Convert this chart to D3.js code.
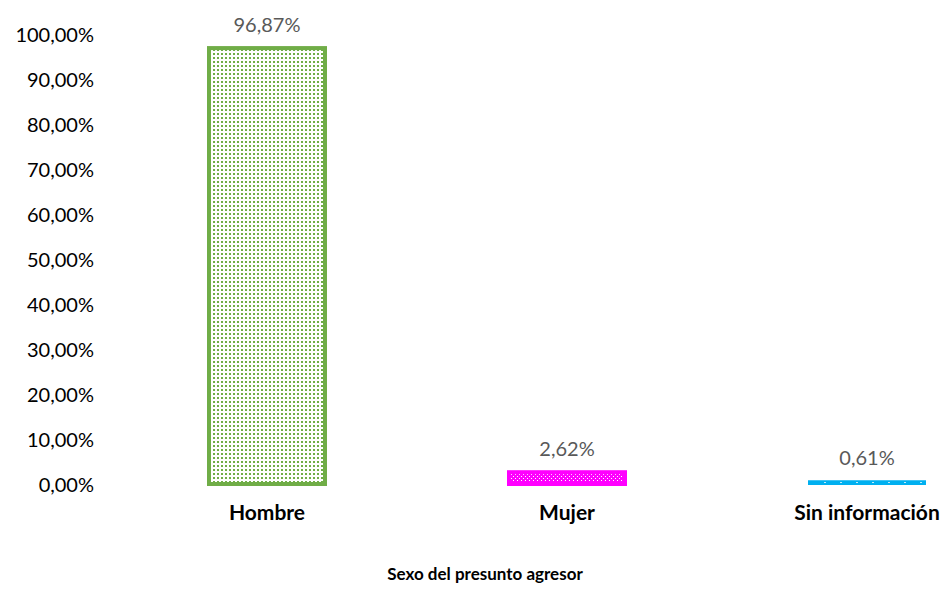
<!DOCTYPE html>
<html><head><meta charset="utf-8">
<script src="https://cdn.jsdelivr.net/npm/d3@7"></script>
<style>body{margin:0;background:#fff}text{font-family:Lato,"Open Sans",sans-serif}</style>
</head><body>
<svg id="c" width="949" height="591"></svg>
<script>
const categories = ["Hombre", "Mujer", "Sin información"];
const values = [96.87, 2.62, 0.61];
const valueLabels = ["96,87%", "2,62%", "0,61%"];
const tickValues = [0,10,20,30,40,50,60,70,80,90,100];
const tickLabels = ["0,00%","10,00%","20,00%","30,00%","40,00%","50,00%","60,00%","70,00%","80,00%","90,00%","100,00%"];
const colors = ["#70AD47", "#FF00FF", "#00B0F0"];
const axisTitle = "Sexo del presunto agresor";

const svg = d3.select("#c");
const defs = svg.append("defs");
const p1 = defs.append("pattern").attr("id","pg").attr("width",4).attr("height",4).attr("patternUnits","userSpaceOnUse");
p1.append("rect").attr("width",4).attr("height",4).attr("fill","#fff");
p1.append("rect").attr("x",1).attr("y",1).attr("width",2).attr("height",2).attr("fill",colors[0]);
const p2 = defs.append("pattern").attr("id","pm").attr("width",4).attr("height",4).attr("patternUnits","userSpaceOnUse");
p2.append("rect").attr("width",4).attr("height",4).attr("fill",colors[1]);
p2.append("rect").attr("x",1).attr("y",0).attr("width",1).attr("height",1).attr("fill","#fff");
p2.append("rect").attr("x",3).attr("y",2).attr("width",1).attr("height",1).attr("fill","#fff");
const p3 = defs.append("pattern").attr("id","pc").attr("width",16).attr("height",4).attr("patternUnits","userSpaceOnUse");
p3.append("rect").attr("width",16).attr("height",4).attr("fill",colors[2]);
p3.append("rect").attr("x",8).attr("y",2).attr("width",2).attr("height",2).attr("fill","#fff");
const fills = ["url(#pg)","url(#pm)","url(#pc)"];

const y = d3.scaleLinear().domain([0,100]).range([484,34]);
const x = d3.scaleBand().domain(categories).range([117,1017]).paddingInner(0.6).paddingOuter(0.3);

const yAxis = d3.axisLeft(y).tickValues(tickValues).tickFormat((d,i)=>tickLabels[i]).tickSize(0).tickPadding(0);
const ya = svg.append("g").attr("transform","translate(94,1)").call(yAxis);
ya.select(".domain").remove();
ya.selectAll("text").attr("font-size",20).attr("fill","#000").style("font-family","Lato,'Open Sans',sans-serif");

const xAxis = d3.axisBottom(x).tickSize(0).tickPadding(0);
const xa = svg.append("g").attr("transform","translate(0,520)").call(xAxis);
xa.select(".domain").remove();
xa.selectAll("text").attr("font-size",21).attr("font-weight","bold").attr("fill","#000").attr("dy","0").style("font-family","Lato,'Open Sans',sans-serif");

const bw = x.bandwidth();
const g = svg.append("g");
categories.forEach((c,i)=>{
  const x0 = x(c), yt = y(values[i]), yb = y(0);
  g.append("rect").attr("x",x0+2).attr("y",yt).attr("width",bw-4).attr("height",Math.max(yb-yt,0.5))
    .attr("fill",fills[i]).attr("stroke",colors[i]).attr("stroke-width",i===2?2:4);
  g.append("text").attr("x",x0+bw/2).attr("y",yt-16).attr("text-anchor","middle")
    .attr("font-size",20).attr("fill","#595959").text(valueLabels[i]);
});

svg.append("text").attr("x",485).attr("y",580).attr("text-anchor","middle")
  .attr("font-size",17).attr("font-weight","bold").attr("fill","#000").text(axisTitle);
</script>
</body></html>
